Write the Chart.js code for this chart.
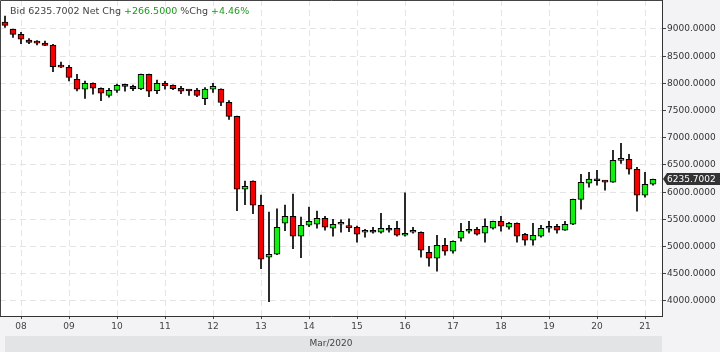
<!DOCTYPE html>
<html><head><meta charset="utf-8">
<script src="https://cdn.jsdelivr.net/npm/chart.js@4.4.1/dist/chart.umd.min.js"></script>
<style>html,body{margin:0;padding:0;background:#f3f3f5;overflow:hidden}</style>
</head><body>
<canvas id="c" width="720" height="352"></canvas>
<script>
// 4-hour candles, 07 Mar 16:00 .. 21 Mar 04:00 (2020)
const dayLabels = ['08','09','10','11','12','13','14','15','16','17','18','19','20','21'];
const firstDayIndex = 2;      // candle index of 08 Mar 00:00
const candlesPerDay = 6;
const opens  = [9129,8994,8902,8798,8765,8743,8706,8320,8296,8075,7892,8002,7910,7781,7873,7965,7946,7897,8167,7866,8002,7965,7910,7880,7879,7719,7892,7897,7652,7395,6054,6206,5760,4804,4859,5429,5557,5190,5392,5410,5520,5337,5410,5375,5355,5263,5282,5263,5337,5337,5208,5263,5263,4896,4786,5025,4914,5153,5282,5318,5245,5337,5465,5355,5429,5227,5116,5190,5337,5374,5300,5410,5869,6164,6243,6205,6182,6586,6605,6421,5943,6146];
const highs  = [9239,9000,8939,8822,8785,8779,8718,8393,8333,8167,8044,8010,7920,7910,7989,7989,7971,8170,8170,8062,8038,7975,7946,7885,7910,7921,8002,7900,7682,7400,6206,6210,5949,5636,5692,5765,5967,5544,5728,5655,5557,5502,5490,5508,5379,5318,5355,5613,5392,5465,5986,5355,5270,5006,5208,5153,5105,5429,5465,5355,5508,5470,5557,5447,5435,5245,5429,5392,5465,5410,5465,5875,6328,6366,6403,6215,6770,6899,6697,6458,6366,6240];
const lows   = [9031,8847,8730,8730,8706,8695,8215,8290,8044,7860,7726,7800,7682,7745,7836,7855,7866,7884,7756,7811,7892,7884,7811,7781,7756,7609,7836,7591,7340,5661,5771,5606,4595,3988,4850,5293,4962,4797,5366,5337,5300,5190,5263,5275,5080,5171,5245,5245,5263,5190,5190,5245,4804,4638,4546,4841,4877,5098,5245,5208,5080,5318,5282,5318,5080,5025,5025,5171,5263,5245,5295,5405,5686,6091,6127,6036,6180,6531,6329,5649,5907,6127];
const closes = [9068,8902,8811,8755,8740,8700,8307,8300,8112,7892,8002,7910,7818,7873,7965,7945,7903,8167,7855,8002,7960,7903,7855,7860,7781,7897,7946,7652,7395,6054,6109,5760,4767,4859,5355,5557,5190,5392,5465,5520,5355,5410,5412,5350,5227,5282,5263,5337,5300,5208,5245,5265,4932,4786,5025,4914,5098,5282,5318,5227,5374,5465,5374,5429,5190,5116,5208,5337,5355,5300,5410,5869,6179,6243,6210,6185,6586,6605,6421,5943,6146,6236];
const yTicks = [4000,4500,5000,5500,6000,6500,7000,7500,8000,8500,9000];
const axisTitle = 'Mar/2020';
const lastPriceLabel = '6235.7002';
const headerParts = [
  ['Bid 6235.7002 Net Chg ', '#444444'],
  ['+266.5000 ', '#1c9a1c'],
  ['%Chg ', '#444444'],
  ['+4.46%', '#1c9a1c']
];

const GREEN = '#12f012', RED = '#f40000';
const bodyData = opens.map((o,i)=>({x:i, y:[o, closes[i]]}));
const wickData = opens.map((o,i)=>({x:i, y:[lows[i], highs[i]]}));
const bodyColors = opens.map((o,i)=> closes[i] >= o ? GREEN : RED);
const dayTickValues = dayLabels.map((d,k)=> firstDayIndex + k*candlesPerDay);

const FONT = 'DejaVu Sans';
Chart.defaults.font.family = FONT;

const framePlugin = {
  id: 'frame',
  beforeDraw(chart){
    const {ctx, chartArea:a} = chart;
    ctx.save();
    ctx.fillStyle = '#f3f3f5';
    ctx.fillRect(0,0,chart.width,chart.height);
    ctx.fillStyle = '#ffffff';
    ctx.fillRect(a.left,a.top,a.right-a.left,a.bottom-a.top);
    ctx.fillStyle = '#e3e4e6';
    ctx.fillRect(5,336,a.right-5,chart.height-336);
    ctx.restore();
  },
  afterDraw(chart){
    const {ctx, chartArea:a} = chart;
    ctx.save();
    ctx.strokeStyle = '#444444';
    ctx.lineWidth = 1;
    ctx.beginPath();
    ctx.moveTo(a.left+0.5, a.bottom); ctx.lineTo(a.left+0.5, a.top+0.5); ctx.lineTo(a.right, a.top+0.5);
    ctx.stroke();
    // header
    ctx.font = '9.5px "'+FONT+'"';
    ctx.textBaseline = 'alphabetic';
    let x = 10;
    headerParts.forEach(([t,c])=>{ ctx.fillStyle=c; ctx.fillText(t,x,14); x += ctx.measureText(t).width; });
    // last price label
    const ys = chart.scales.y;
    const py = Math.round(ys.getPixelForValue(closes[closes.length-1]));
    ctx.fillStyle = '#333333';
    ctx.beginPath();
    ctx.moveTo(a.right+1, py);
    ctx.lineTo(a.right+5, py-6);
    ctx.lineTo(chart.width, py-6);
    ctx.lineTo(chart.width, py+6);
    ctx.lineTo(a.right+5, py+6);
    ctx.closePath();
    ctx.fill();
    ctx.fillStyle = '#ffffff';
    ctx.font = '9px "'+FONT+'"';
    ctx.textBaseline = 'middle';
    ctx.fillText(lastPriceLabel, a.right+5, py+0.5);
    ctx.restore();
  }
};

new Chart(document.getElementById('c'), {
  type: 'bar',
  data: {
    datasets: [
      { label:'body', data: bodyData, backgroundColor: bodyColors, borderColor:'#000000', borderWidth:1,
        borderSkipped:false, barThickness:6, minBarLength:2, grouped:false, order:0 },
      { label:'wick', data: wickData, backgroundColor:'#000000', borderWidth:0,
        barThickness:1, grouped:false, order:1 }
    ]
  },
  options: {
    responsive:false, animation:false, devicePixelRatio:1,
    layout:{padding:0},
    plugins:{legend:{display:false}, tooltip:{enabled:false}},
    scales:{
      x:{
        type:'linear', position:'bottom', min:-0.625, max:82.125, offset:false,
        afterBuildTicks(s){ s.ticks = dayTickValues.map(v=>({value:v})); },
        afterFit(s){ s.height = 36; s.paddingLeft = 0; s.paddingRight = 0; },
        ticks:{ autoSkip:false, maxRotation:0, padding:2, color:'#444444', font:{size:9},
          callback:(v)=> dayLabels[Math.round((v-firstDayIndex)/candlesPerDay)] },
        grid:{ offset:false, color:'#e4e4e4', lineWidth:1, tickLength:3, tickColor:'#444444', tickBorderDash:[] },
        border:{ display:true, color:'#333333', width:1, dash:[6,4] },
        title:{ display:true, text:axisTitle, color:'#444444', font:{size:9}, padding:{top:0,bottom:3} }
      },
      y:{
        type:'linear', position:'right', min:3724, max:9533, beginAtZero:false,
        afterBuildTicks(s){ s.ticks = yTicks.map(v=>({value:v})); },
        afterFit(s){ s.width = 58; s.paddingTop = 0; s.paddingBottom = 0; },
        ticks:{ padding:1, color:'#333333', font:{size:9}, callback:(v)=> Number(v).toFixed(4) },
        grid:{ color:'#e4e4e4', lineWidth:1, tickLength:4, tickColor:'#444444', tickBorderDash:[] },
        border:{ display:true, color:'#333333', width:1, dash:[6,4] }
      }
    }
  },
  plugins:[framePlugin]
});
</script>
</body></html>
